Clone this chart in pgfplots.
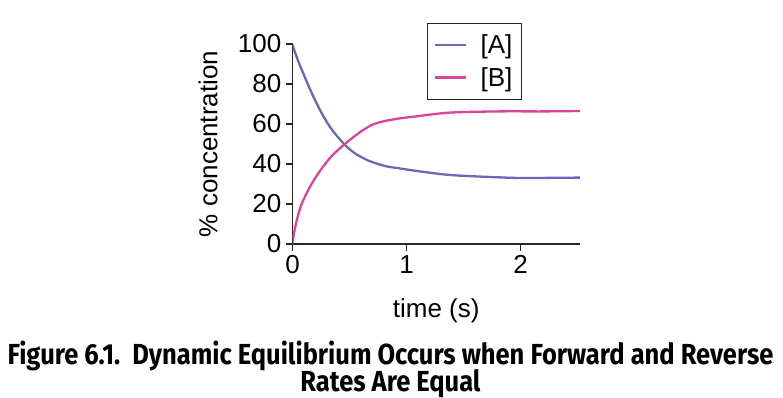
\documentclass[border=0pt]{standalone}
\usepackage{fontspec}
\setmainfont{Liberation Sans}
\newfontfamily\capfont{Fira Sans}[FakeStretch=0.88]
\usepackage{pgfplots}
\pgfplotsset{compat=1.18}
\definecolor{cA}{HTML}{6A69B4}
\definecolor{cB}{HTML}{D8449A}
\begin{document}
\begin{tikzpicture}
\useasboundingbox (0pt,0pt) rectangle (783pt,398pt);
\begin{axis}[
  at={(292.5pt,154pt)}, anchor=south west,
  scale only axis, width=287.5pt, height=200pt,
  xmin=0, xmax=2.52, ymin=0, ymax=100,
  axis lines*=left,
  axis line style={line width=1.3pt, black!85},
  xtick={0,1,2}, ytick={0,20,40,60,80,100},
  tick align=outside, major tick length=6.7pt,
  tick style={line width=1.2pt, black!85},
  /pgf/number format/assume math mode=true,
  ticklabel style={font=\fontsize{26}{30}\selectfont},
  xticklabel style={yshift=-1pt},
  yticklabel style={xshift=-1pt},
  xlabel={time (s)}, ylabel={\% concentration},
  label style={font=\fontsize{26}{30}\selectfont},
  xlabel style={at={(axis description cs:0.5,-0.335)}, anchor=center},
  ylabel style={at={(axis description cs:-0.294,0.5)}, anchor=center},
  legend style={at={(0.467,1.105)}, anchor=north west, draw=black!85, line width=1pt,
    font=\fontsize{26}{30}\selectfont, inner xsep=7pt, inner ysep=9.5pt,
    row sep=8pt, /tikz/every odd column/.append style={column sep=11pt}},
  legend cell align=left,
  legend image code/.code={\draw[#1, line width=2.3pt] (0pt,0pt) -- (31pt,0pt);},
]
\addplot[cA, line width=2.3pt, smooth, tension=0.5] coordinates {
(0,99.5) (0.04,93) (0.082,87) (0.17,75.3) (0.257,65.3) (0.344,57.3) (0.455,49.8)
(0.548,45.3) (0.665,41.7) (0.81,39) (0.94,37.8) (1.067,36.7) (1.38,34.5)
(1.82,33.3) (2.04,33.0) (2.52,33.2)};
\addlegendentry{[A]}
\addplot[cB, line width=2.3pt, smooth, tension=0.5] coordinates {
(0,0) (0.012,5) (0.038,12) (0.082,20.3) (0.17,30.3) (0.257,37.8) (0.344,44) (0.455,49.8)
(0.577,55.3) (0.694,59.5) (0.81,61.5) (0.94,62.8) (1.067,63.7) (1.38,65.7)
(1.82,66.3) (2.2,66.3) (2.52,66.5)};
\addlegendentry{[B]}
\end{axis}
\node[anchor=base, inner sep=0pt, font=\capfont\bfseries\fontsize{29}{33}\selectfont] at (390.5pt,33pt)
  {Figure 6.1.\ \ Dynamic Equilibrium Occurs when Forward and Reverse};
\node[anchor=base, inner sep=0pt, font=\capfont\bfseries\fontsize{29}{33}\selectfont] at (390.5pt,6.5pt)
  {Rates Are Equal};
\end{tikzpicture}
\end{document}
